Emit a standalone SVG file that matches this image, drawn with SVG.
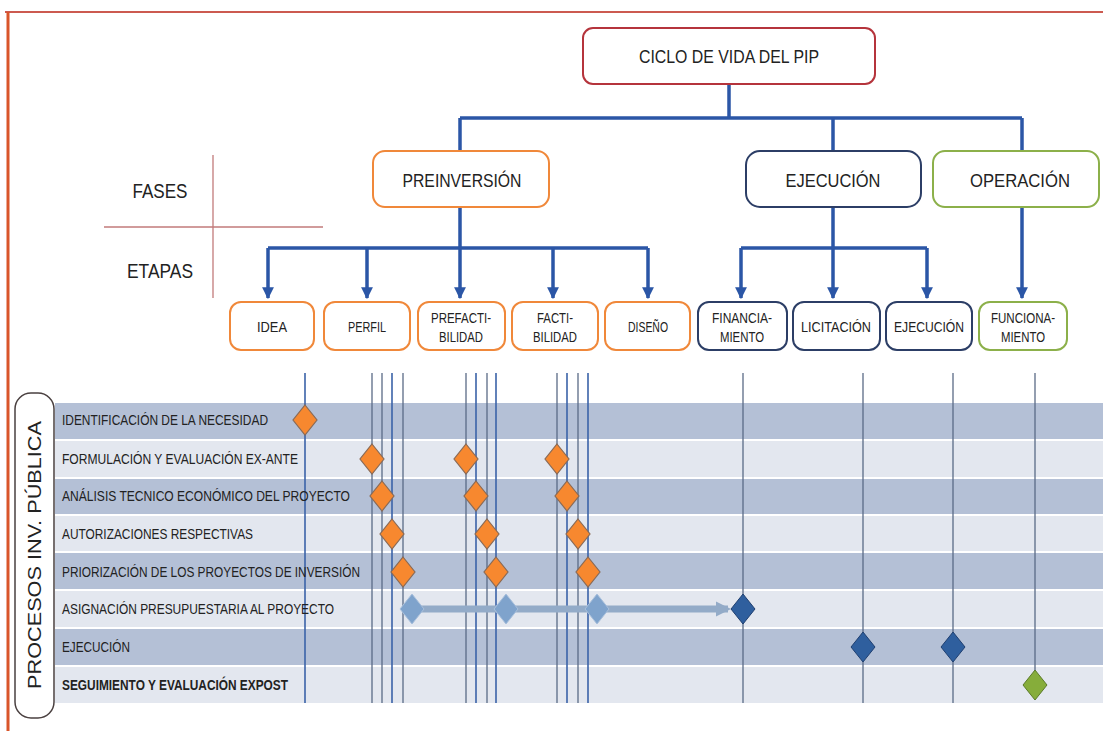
<svg xmlns="http://www.w3.org/2000/svg" width="1103" height="731" viewBox="0 0 1103 731">
<defs>
<style>
.t{font-family:"Liberation Sans",Arial,sans-serif;fill:#222}
.box{fill:#fff;stroke-width:2}
.or{stroke:#f0883a}
.bl{stroke:#2c3e66}
.gr{stroke:#8cb04a}
.con{stroke:#2b56a6;stroke-width:3.5;fill:none}
.vl1{stroke:#3a62a8;stroke-width:1.6}
.vl2{stroke:#5a6a86;stroke-width:1.3}
.dk{fill:#b4c0d6}
.lt{fill:#e3e7ef}
.dO{fill:#f7882f;stroke:#8a6a55;stroke-width:1.2}
.dB{fill:#2f5f9e;stroke:#1f3f70;stroke-width:1}
.dL{fill:#7fa3cc;stroke:#a9c0dc;stroke-width:1}
.dG{fill:#86ad3a;stroke:#5a7a28;stroke-width:1}
</style>
<marker id="ah" viewBox="0 0 10 10" refX="9" refY="5" markerWidth="3.4" markerHeight="3.4" orient="auto" markerUnits="strokeWidth">
<path d="M0,0 L10,5 L0,10 z" fill="#2b56a6"/>
</marker>
<marker id="ah2" viewBox="0 0 10 10" refX="8" refY="5" markerWidth="2.2" markerHeight="2.2" orient="auto" markerUnits="strokeWidth">
<path d="M0,0 L10,5 L0,10 z" fill="#93abc8"/>
</marker>
</defs>
<rect width="1103" height="731" fill="#fff"/>
<g id="frame">
<line x1="5" y1="12" x2="1103" y2="12" stroke="#cc5a50" stroke-width="2"/>
<line x1="8" y1="12" x2="8" y2="731" stroke="#d9552a" stroke-width="3"/>
</g>
<g id="bands">
<rect class="dk" x="55" y="403" width="1048" height="36"/>
<rect class="lt" x="55" y="441" width="1048" height="36"/>
<rect class="dk" x="55" y="479" width="1048" height="35"/>
<rect class="lt" x="55" y="516" width="1048" height="35"/>
<rect class="dk" x="55" y="553" width="1048" height="36"/>
<rect class="lt" x="55" y="591" width="1048" height="36"/>
<rect class="dk" x="55" y="629" width="1048" height="36"/>
<rect class="lt" x="55" y="667" width="1048" height="36"/>
</g>
<g id="axis">
<line x1="213" y1="155" x2="213" y2="298" stroke="#c27a7a" stroke-width="1.3"/>
<line x1="104" y1="227" x2="323" y2="227" stroke="#c27a7a" stroke-width="1.3"/>
<text class="t" x="160" y="198" font-size="20" text-anchor="middle" textLength="55" lengthAdjust="spacingAndGlyphs">FASES</text>
<text class="t" x="160" y="278" font-size="20" text-anchor="middle" textLength="66" lengthAdjust="spacingAndGlyphs">ETAPAS</text>
</g>
<g id="connectors">
<path class="con" d="M729,84 V118 M460,118 H1022 M460,118 V151 M833,118 V151 M1022,118 V151"/>
<path class="con" d="M460,207 V248 M268,248 H648 M833,207 V248 M741,248 H927"/>
<line class="con" x1="268" y1="248" x2="268" y2="298" marker-end="url(#ah)"/>
<line class="con" x1="367" y1="248" x2="367" y2="298" marker-end="url(#ah)"/>
<line class="con" x1="460" y1="248" x2="460" y2="298" marker-end="url(#ah)"/>
<line class="con" x1="553" y1="248" x2="553" y2="298" marker-end="url(#ah)"/>
<line class="con" x1="648" y1="248" x2="648" y2="298" marker-end="url(#ah)"/>
<line class="con" x1="741" y1="248" x2="741" y2="298" marker-end="url(#ah)"/>
<line class="con" x1="833" y1="248" x2="833" y2="298" marker-end="url(#ah)"/>
<line class="con" x1="927" y1="248" x2="927" y2="298" marker-end="url(#ah)"/>
<line class="con" x1="1022" y1="207" x2="1022" y2="298" marker-end="url(#ah)"/>
</g>
<g id="n-ciclo">
<rect class="box" x="583" y="28" width="292" height="56" rx="10" stroke="#b5343c"/>
<text class="t" x="729" y="63" font-size="18" text-anchor="middle" textLength="180" lengthAdjust="spacingAndGlyphs">CICLO DE VIDA DEL PIP</text>
</g>
<g id="n-preinversion">
<rect class="box or" x="373" y="151" width="176" height="56" rx="12"/>
<text class="t" x="462" y="187" font-size="19" text-anchor="middle" textLength="119" lengthAdjust="spacingAndGlyphs">PREINVERSIÓN</text>
</g>
<g id="n-ejecucion">
<rect class="box bl" x="746" y="151" width="175" height="56" rx="14"/>
<text class="t" x="833" y="187" font-size="19" text-anchor="middle" textLength="95" lengthAdjust="spacingAndGlyphs">EJECUCIÓN</text>
</g>
<g id="n-operacion">
<rect class="box gr" x="933" y="151" width="166" height="56" rx="12"/>
<text class="t" x="1020" y="187" font-size="19" text-anchor="middle" textLength="100" lengthAdjust="spacingAndGlyphs">OPERACIÓN</text>
</g>
<g id="s-idea"><rect class="box or" x="230" y="302" width="84" height="48" rx="11"/><text class="t" x="272" y="332" font-size="14" text-anchor="middle" textLength="30" lengthAdjust="spacingAndGlyphs">IDEA</text></g>
<g id="s-perfil"><rect class="box or" x="324" y="302" width="86" height="48" rx="11"/><text class="t" x="367" y="332" font-size="14" text-anchor="middle" textLength="38" lengthAdjust="spacingAndGlyphs">PERFIL</text></g>
<g id="s-prefact"><rect class="box or" x="418" y="302" width="87" height="48" rx="11"/><text class="t" x="461" y="323" font-size="14" text-anchor="middle" textLength="60" lengthAdjust="spacingAndGlyphs">PREFACTI-</text><text class="t" x="461" y="342" font-size="14" text-anchor="middle" textLength="44" lengthAdjust="spacingAndGlyphs">BILIDAD</text></g>
<g id="s-fact"><rect class="box or" x="512" y="302" width="86" height="48" rx="11"/><text class="t" x="555" y="323" font-size="14" text-anchor="middle" textLength="36" lengthAdjust="spacingAndGlyphs">FACTI-</text><text class="t" x="555" y="342" font-size="14" text-anchor="middle" textLength="44" lengthAdjust="spacingAndGlyphs">BILIDAD</text></g>
<g id="s-diseno"><rect class="box or" x="605" y="302" width="85" height="48" rx="11"/><text class="t" x="648" y="332" font-size="14" text-anchor="middle" textLength="40" lengthAdjust="spacingAndGlyphs">DISEÑO</text></g>
<g id="s-financ"><rect class="box bl" x="698" y="302" width="89" height="48" rx="11"/><text class="t" x="742" y="323" font-size="14" text-anchor="middle" textLength="60" lengthAdjust="spacingAndGlyphs">FINANCIA-</text><text class="t" x="742" y="342" font-size="14" text-anchor="middle" textLength="44" lengthAdjust="spacingAndGlyphs">MIENTO</text></g>
<g id="s-licit"><rect class="box bl" x="793" y="302" width="87" height="48" rx="11"/><text class="t" x="836" y="332" font-size="14" text-anchor="middle" textLength="70" lengthAdjust="spacingAndGlyphs">LICITACIÓN</text></g>
<g id="s-ejec"><rect class="box bl" x="886" y="302" width="86" height="48" rx="11"/><text class="t" x="929" y="332" font-size="14" text-anchor="middle" textLength="70" lengthAdjust="spacingAndGlyphs">EJECUCIÓN</text></g>
<g id="s-func"><rect class="box gr" x="979" y="302" width="88" height="48" rx="11"/><text class="t" x="1023" y="323" font-size="14" text-anchor="middle" textLength="64" lengthAdjust="spacingAndGlyphs">FUNCIONA-</text><text class="t" x="1023" y="342" font-size="14" text-anchor="middle" textLength="44" lengthAdjust="spacingAndGlyphs">MIENTO</text></g>
<g id="timelines">
<line class="vl1" x1="305" y1="373" x2="305" y2="703"/>
<line class="vl2" x1="372" y1="373" x2="372" y2="703"/>
<line class="vl2" x1="382" y1="373" x2="382" y2="703"/>
<line class="vl1" x1="392" y1="373" x2="392" y2="703"/>
<line class="vl2" x1="403" y1="373" x2="403" y2="703"/>
<line class="vl2" x1="466" y1="373" x2="466" y2="703"/>
<line class="vl1" x1="476" y1="373" x2="476" y2="703"/>
<line class="vl2" x1="487" y1="373" x2="487" y2="703"/>
<line class="vl1" x1="496" y1="373" x2="496" y2="703"/>
<line class="vl2" x1="557" y1="373" x2="557" y2="703"/>
<line class="vl1" x1="567" y1="373" x2="567" y2="703"/>
<line class="vl2" x1="578" y1="373" x2="578" y2="703"/>
<line class="vl1" x1="588" y1="373" x2="588" y2="703"/>
<line class="vl2" x1="743" y1="373" x2="743" y2="703"/>
<line class="vl2" x1="863" y1="373" x2="863" y2="703"/>
<line class="vl2" x1="953" y1="373" x2="953" y2="703"/>
<line class="vl2" x1="1035" y1="373" x2="1035" y2="685"/>
</g>
<g id="procesos">
<rect x="15" y="393" width="39" height="325" rx="16" fill="#fff" stroke="#4a4040" stroke-width="1.5"/>
<text class="t" transform="translate(41,555) rotate(-90)" font-size="18" text-anchor="middle" textLength="268" lengthAdjust="spacingAndGlyphs" fill="#333">PROCESOS INV. PÚBLICA</text>
</g>
<g id="row-labels" font-size="14.5">
<text class="t" x="62" y="425" textLength="206" lengthAdjust="spacingAndGlyphs">IDENTIFICACIÓN DE LA NECESIDAD</text>
<text class="t" x="62" y="464" textLength="236" lengthAdjust="spacingAndGlyphs">FORMULACIÓN Y EVALUACIÓN EX-ANTE</text>
<text class="t" x="62" y="501" textLength="288" lengthAdjust="spacingAndGlyphs">ANÁLISIS TECNICO ECONÓMICO DEL PROYECTO</text>
<text class="t" x="62" y="539" textLength="191" lengthAdjust="spacingAndGlyphs">AUTORIZACIONES RESPECTIVAS</text>
<text class="t" x="62" y="577" textLength="298" lengthAdjust="spacingAndGlyphs">PRIORIZACIÓN DE LOS PROYECTOS DE INVERSIÓN</text>
<text class="t" x="62" y="614" textLength="272" lengthAdjust="spacingAndGlyphs">ASIGNACIÓN PRESUPUESTARIA AL PROYECTO</text>
<text class="t" x="62" y="652" textLength="68" lengthAdjust="spacingAndGlyphs">EJECUCIÓN</text>
<text class="t" x="62" y="690" textLength="226" lengthAdjust="spacingAndGlyphs" font-weight="bold">SEGUIMIENTO Y EVALUACIÓN EXPOST</text>
</g>
<g id="asignacion-arrow">
<line x1="420" y1="609" x2="728" y2="609" stroke="#93abc8" stroke-width="7" marker-end="url(#ah2)"/>
</g>
<g id="diamonds">
<path class="dO" d="M305,405 l12,15 l-12,15 l-12,-15 z"/>
<path class="dO" d="M372,444 l12,15 l-12,15 l-12,-15 z"/>
<path class="dO" d="M466,444 l12,15 l-12,15 l-12,-15 z"/>
<path class="dO" d="M557,444 l12,15 l-12,15 l-12,-15 z"/>
<path class="dO" d="M382,481 l12,15 l-12,15 l-12,-15 z"/>
<path class="dO" d="M476,481 l12,15 l-12,15 l-12,-15 z"/>
<path class="dO" d="M567,481 l12,15 l-12,15 l-12,-15 z"/>
<path class="dO" d="M392,519 l12,15 l-12,15 l-12,-15 z"/>
<path class="dO" d="M487,519 l12,15 l-12,15 l-12,-15 z"/>
<path class="dO" d="M578,519 l12,15 l-12,15 l-12,-15 z"/>
<path class="dO" d="M403,557 l12,15 l-12,15 l-12,-15 z"/>
<path class="dO" d="M496,557 l12,15 l-12,15 l-12,-15 z"/>
<path class="dO" d="M588,557 l12,15 l-12,15 l-12,-15 z"/>
<path class="dL" d="M412,594 l12,15 l-12,15 l-12,-15 z"/>
<path class="dL" d="M506,594 l12,15 l-12,15 l-12,-15 z"/>
<path class="dL" d="M597,594 l12,15 l-12,15 l-12,-15 z"/>
<path class="dB" d="M743,594 l12,15 l-12,15 l-12,-15 z"/>
<path class="dB" d="M863,632 l12,15 l-12,15 l-12,-15 z"/>
<path class="dB" d="M953,632 l12,15 l-12,15 l-12,-15 z"/>
<path class="dG" d="M1035,670 l12,15 l-12,15 l-12,-15 z"/>
</g>
</svg>
